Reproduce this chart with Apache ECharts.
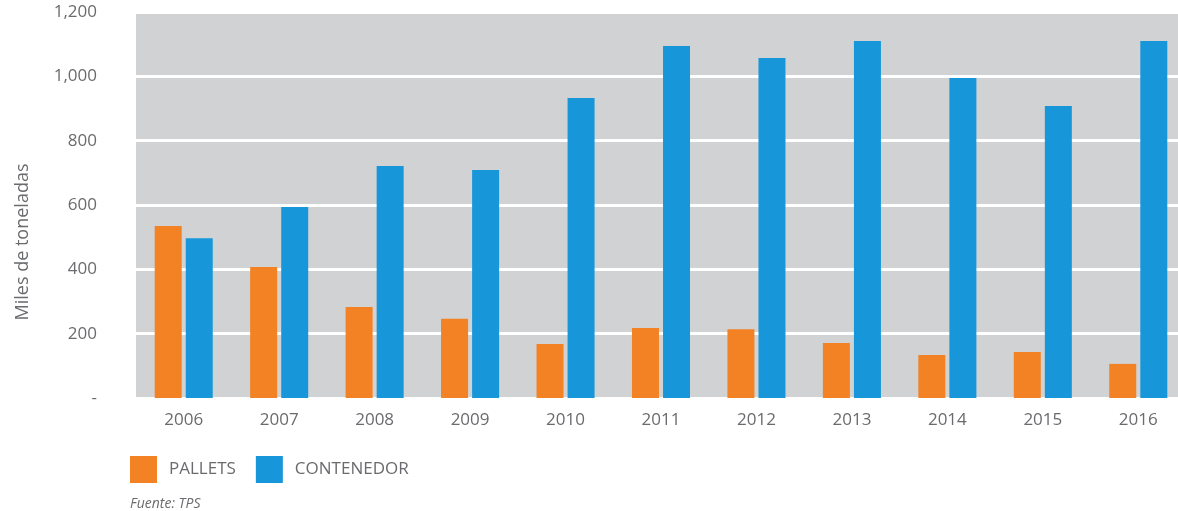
<!DOCTYPE html>
<html>
<head>
<meta charset="utf-8">
<script src="https://cdn.jsdelivr.net/npm/echarts@6/dist/echarts.min.js"></script>
<style>
  html, body { margin: 0; padding: 0; background: #fff; }
  #chart { width: 1178px; height: 511px; }
</style>
</head>
<body>
<div id="chart"></div>
<script>
const years = ['2006', '2007', '2008', '2009', '2010', '2011', '2012', '2013', '2014', '2015', '2016'];
const pallets = [535, 407, 283, 246, 168, 218, 214, 171, 134, 143, 106];
const contenedor = [497, 594, 721, 709, 933, 1094, 1057, 1110, 995, 908, 1110];
const yTicks = [0, 200, 400, 600, 800, 1000, 1200];

const textColor = '#6a6b6e';
const font = 'Open Sans';

const chart = echarts.init(document.getElementById('chart'));

chart.setOption({
    animation: false,
    textStyle: { fontFamily: font },
    title: {
        text: 'Fuente: TPS',
        left: 130,
        top: 497,
        padding: 0,
        textStyle: { fontSize: 14, fontStyle: 'italic', fontWeight: 'normal', color: textColor, fontFamily: font }
    },
    legend: {
        data: ['PALLETS', 'CONTENEDOR'],
        left: 130,
        top: 456,
        padding: 0,
        itemWidth: 27,
        itemHeight: 27,
        itemGap: 20,
        icon: 'rect',
        textStyle: { fontSize: 17, color: textColor, padding: [0, 0, 0, 7] }
    },
    grid: {
        left: 136,
        top: 12,
        bottom: 113,
        width: 1050,
        outerBoundsMode: 'none',
        show: true,
        backgroundColor: '#d1d2d4',
        borderWidth: 0
    },
    xAxis: {
        type: 'category',
        data: years,
        axisLine: { show: false },
        axisTick: { show: false },
        axisLabel: { fontSize: 17, color: textColor, margin: 14 }
    },
    yAxis: {
        type: 'value',
        min: 0,
        max: yTicks[yTicks.length - 1],
        interval: 200,
        name: 'Miles de toneladas',
        nameLocation: 'middle',
        nameGap: 104,
        nameTextStyle: { fontSize: 18, color: textColor, padding: [0, 74, 0, 0] },
        axisLine: { show: false },
        axisTick: { show: false },
        axisLabel: {
            fontSize: 17,
            color: textColor,
            margin: 39,
            formatter: v => v === 0 ? '-' : v.toLocaleString('en-US')
        },
        splitLine: { lineStyle: { color: '#ffffff', width: 3 } }
    },
    series: [
        {
            name: 'PALLETS',
            type: 'bar',
            data: pallets,
            barWidth: 27,
            barGap: '15%',
            itemStyle: { color: '#f28224' }
        },
        {
            name: 'CONTENEDOR',
            type: 'bar',
            data: contenedor,
            barWidth: 27,
            itemStyle: { color: '#1797da' }
        }
    ]
});
</script>
</body>
</html>
